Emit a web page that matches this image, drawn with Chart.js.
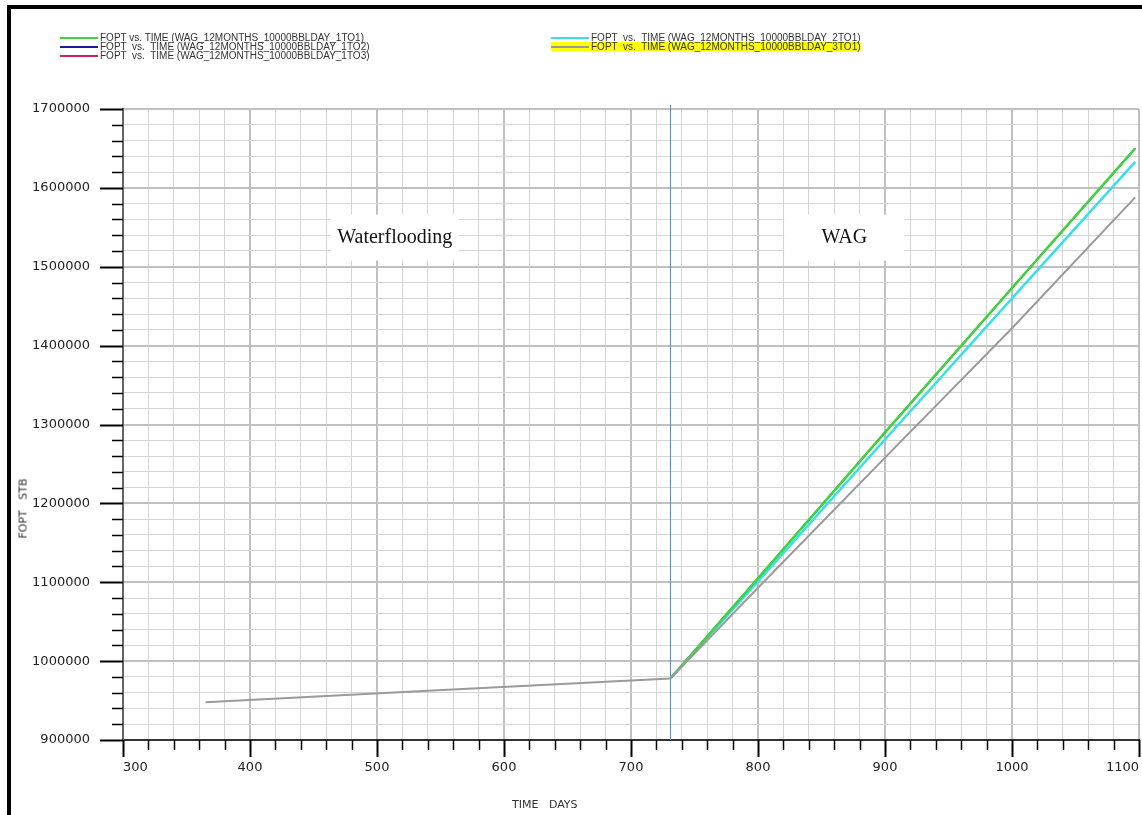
<!DOCTYPE html>
<html>
<head>
<meta charset="utf-8">
<script src="https://cdn.jsdelivr.net/npm/chart.js@4.4.0/dist/chart.umd.min.js"></script>
<style>
  body { margin: 0; background: #fff; }
  #page { position: relative; width: 1142px; height: 815px; overflow: hidden; background: #fff; }
  #frame { position: absolute; left: 7px; top: 5px; width: 1131px; height: 900px;
           border-left: 4px solid #000; border-top: 4px solid #000; border-right: 2px solid #000; }
  #chartCanvas { position: absolute; left: 0; top: 0; }
  .legendCol { position: absolute; font: 10px "Liberation Sans", Arial, sans-serif; color: #333; }
  .legendRow { height: 9px; line-height: 9px; white-space: pre; display: flex; align-items: center; }
  .legendRow .swatch { display: inline-block; width: 38px; height: 2px; margin-right: 2px; }
  .axisTitle { position: absolute; font: 11px "DejaVu Sans", sans-serif; color: #333; white-space: pre; }
</style>
</head>
<body>
<div id="page">
  <div id="frame"></div>
  <canvas id="chartCanvas" width="1142" height="815"></canvas>
  <div class="legendCol" id="legendLeft" style="left:60px; top:33px;"></div>
  <div class="legendCol" id="legendRight" style="left:551px; top:33px;"></div>
  <div class="axisTitle" style="left:-7px; top:502px; transform: rotate(-90deg);">FOPT   STB</div>
  <div class="axisTitle" style="left:512px; top:798px;">TIME   DAYS</div>
</div>
<script>
// simulation days and cumulative field oil production (STB)
const days = [365, 548, 731, 800, 900, 1000, 1097];
const fopt1to1 = [948000, 963000, 978000, 1105000, 1290000, 1473000, 1650000];
const fopt1to2 = [948000, 963000, 978000, 1105000, 1290000, 1473000, 1650000];
const fopt1to3 = [948000, 963000, 978000, 1105000, 1290000, 1473000, 1650000];
const fopt2to1 = [948000, 963000, 978000, 1101000, 1281000, 1460000, 1633000];
const fopt3to1 = [948000, 963000, 978000, 1093000, 1258000, 1422000, 1588000];

const seriesNames = [
  "FOPT vs. TIME (WAG_12MONTHS_10000BBLDAY_1TO1)",
  "FOPT  vs.  TIME (WAG_12MONTHS_10000BBLDAY_1TO2)",
  "FOPT  vs.  TIME (WAG_12MONTHS_10000BBLDAY_1TO3)",
  "FOPT  vs.  TIME (WAG_12MONTHS_10000BBLDAY_2TO1)",
  "FOPT  vs.  TIME (WAG_12MONTHS_10000BBLDAY_3TO1)"
];
const seriesColors = ["#3dd43d", "#1a1aa8", "#d0206a", "#36dfea", "#9a9a9a"];

const xMin = 300, xMax = 1100, xStep = 20, xMajor = 100;
const yMin = 900000, yMax = 1700000, yStep = 20000, yMajor = 100000;

const wagStart = 731;  // switch from waterflooding to WAG
const phaseLabels = [
  { text: "Waterflooding", x: 514, y: 1537000, w: 128, h: 46 },
  { text: "WAG", x: 868, y: 1537000, w: 120, h: 46 }
];

function toPoints(vals) {
  return days.map((d, i) => ({ x: d, y: vals[i] }));
}

const seriesValues = [fopt1to1, fopt1to2, fopt1to3, fopt2to1, fopt3to1];
// drawing order: grey on top, then green, cyan, blue, magenta
const drawOrder = [1, 3, 4, 2, 0];
const lineWidths = [2.5, 1.5, 1.5, 2.5, 2];
const datasets = seriesValues.map((vals, i) => ({
  label: seriesNames[i],
  data: toPoints(vals),
  borderColor: seriesColors[i],
  borderWidth: lineWidths[i],
  pointRadius: 0,
  fill: false,
  tension: 0,
  order: drawOrder[i],
  // before WAG all runs share the grey waterflooding curve
  segment: i === 4 ? undefined : {
    borderColor: ctx => ctx.p1.parsed.x <= wagStart ? 'rgba(0,0,0,0)' : undefined
  }
}));

// black tick marks, long at major values, short at minor ones
const tickMarks = {
  id: 'tickMarks',
  afterDraw(chart) {
    const ctx = chart.ctx, xs = chart.scales.x, ys = chart.scales.y;
    const area = chart.chartArea;
    ctx.save();
    ctx.strokeStyle = '#000';
    for (let v = yMin; v <= yMax; v += yStep) {
      const py = Math.round(ys.getPixelForValue(v)) + 0.5;
      const major = v % yMajor === 0;
      ctx.lineWidth = major ? 2 : 1.5;
      ctx.beginPath();
      ctx.moveTo(area.left - (major ? 23 : 11), py);
      ctx.lineTo(area.left, py);
      ctx.stroke();
    }
    for (let v = xMin; v <= xMax; v += xStep) {
      const px = Math.round(xs.getPixelForValue(v)) + 0.5;
      const major = v % xMajor === 0;
      ctx.lineWidth = major ? 2 : 1.5;
      ctx.beginPath();
      ctx.moveTo(px, area.bottom);
      ctx.lineTo(px, area.bottom + (major ? 17 : 10));
      ctx.stroke();
    }
    ctx.restore();
  }
};

// blue phase boundary and the two white label boxes
const phaseMarks = {
  id: 'phaseMarks',
  beforeDatasetsDraw(chart) {
    const ctx = chart.ctx, xs = chart.scales.x, ys = chart.scales.y;
    const area = chart.chartArea;
    ctx.save();
    const bx = Math.round(xs.getPixelForValue(wagStart)) + 0.5;
    ctx.strokeStyle = '#4a8fe0';
    ctx.lineWidth = 1;
    ctx.beginPath();
    ctx.moveTo(bx, area.top - 4);
    ctx.lineTo(bx, area.bottom);
    ctx.stroke();
    ctx.font = '20px "Liberation Serif", "Times New Roman", serif';
    ctx.textAlign = 'center';
    ctx.textBaseline = 'middle';
    phaseLabels.forEach(l => {
      const cx = xs.getPixelForValue(l.x), cy = ys.getPixelForValue(l.y);
      ctx.fillStyle = '#fff';
      ctx.fillRect(cx - l.w / 2, cy - l.h / 2, l.w, l.h);
      ctx.fillStyle = '#111';
      ctx.fillText(l.text, cx, cy);
    });
    ctx.restore();
  }
};

const chart = new Chart(document.getElementById('chartCanvas'), {
  type: 'line',
  data: { datasets: datasets },
  options: {
    responsive: false,
    animation: false,
    layout: { padding: { left: 0, top: 109, right: 3, bottom: 0 } },
    plugins: { legend: { display: false }, tooltip: { enabled: false } },
    scales: {
      x: {
        type: 'linear',
        min: xMin, max: xMax,
        afterFit(scale) { scale.height = 75; scale.paddingLeft = 0; scale.paddingRight = 0; },
        border: { display: true, color: '#333', width: 2 },
        grid: {
          drawTicks: false,
          color: ctx => ctx.tick && ctx.tick.value % xMajor === 0 ? '#c0c0c0' : '#d4d4d4',
          lineWidth: ctx => ctx.tick && ctx.tick.value % xMajor === 0 ? 2 : 1
        },
        ticks: {
          stepSize: xStep, autoSkip: false, maxRotation: 0, align: 'inner',
          padding: 20, color: '#222',
          font: { family: '"DejaVu Sans", sans-serif', size: 13 },
          callback: v => v % xMajor === 0 ? String(v) : ''
        }
      },
      y: {
        min: yMin, max: yMax,
        afterFit(scale) { scale.width = 123; },
        border: { display: true, color: '#666', width: 2 },
        grid: {
          drawTicks: false,
          color: ctx => ctx.tick && ctx.tick.value % yMajor === 0 ? '#c0c0c0' : '#d4d4d4',
          lineWidth: ctx => ctx.tick && ctx.tick.value % yMajor === 0 ? 2 : 1
        },
        ticks: {
          stepSize: yStep, autoSkip: false, padding: 33, color: '#222',
          font: { family: '"DejaVu Sans", sans-serif', size: 13 },
          callback: v => v % yMajor === 0 ? String(v) : ''
        }
      }
    }
  },
  plugins: [phaseMarks, tickMarks]
});

// legend: first three runs on the left, the other two on the right
function addLegendRow(col, i, highlight) {
  const row = document.createElement('div');
  row.className = 'legendRow';
  if (highlight) row.style.background = '#ffff00';
  const sw = document.createElement('span');
  sw.className = 'swatch';
  sw.style.background = seriesColors[i];
  row.appendChild(sw);
  row.appendChild(document.createTextNode(seriesNames[i]));
  col.appendChild(row);
}
const leftCol = document.getElementById('legendLeft');
const rightCol = document.getElementById('legendRight');
[0, 1, 2].forEach(i => addLegendRow(leftCol, i, false));
addLegendRow(rightCol, 3, false);
addLegendRow(rightCol, 4, true);
</script>
</body>
</html>
